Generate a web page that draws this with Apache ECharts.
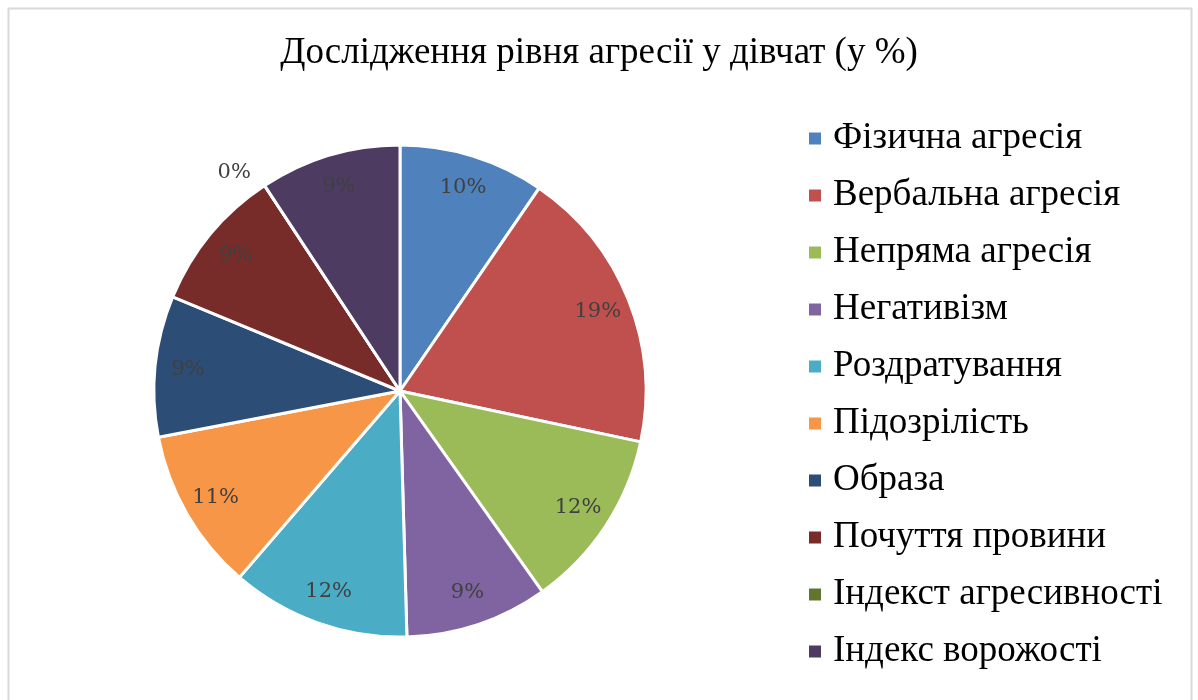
<!DOCTYPE html>
<html>
<head>
<meta charset="utf-8">
<script src="https://cdn.jsdelivr.net/npm/echarts@6/dist/echarts.min.js"></script>
<style>
	html, body { margin: 0; padding: 0; background: #ffffff; }
	#chart { width: 1198px; height: 700px; }
</style>
</head>
<body>
<div id="chart"></div>
<script>
var categories = [ 'Фізична агресія', 'Вербальна агресія', 'Непряма агресія', 'Негативізм',
		'Роздратування', 'Підозрілість', 'Образа', 'Почуття провини',
		'Індекст агресивності', 'Індекс ворожості' ];
var shares = [ 9.6, 18.8, 11.9, 9.4, 11.8, 10.7, 9.3, 9.5, 0, 9.3 ];
var colors = [ '#4f81bd', '#c0504d', '#9bbb59', '#8064a2', '#4bacc6',
		'#f79646', '#2c4d75', '#772c2a', '#5f7530', '#4d3b62' ];

function loadPie(chartId) {
	var myPie = echarts.init(document.getElementById(chartId));
	var pieData = [], labelData = [];
	for (var i = 0; i < categories.length; i++) {
		pieData.push({ name : categories[i], value : shares[i] });
		var item = { name : categories[i], value : shares[i] };
		if (shares[i] === 0) {
			// нульовий сектор - підпис зовні
			item.label = { position : 'outside' };
		}
		labelData.push(item);
	}
	var pieOption = {
		color : colors,
		animation : false,
		title : {
			text : 'Дослідження рівня агресії у дівчат (у %)',
			left : 'center',
			top : 30,
			textStyle : {
				fontFamily : 'Liberation Serif',
				fontWeight : 'normal',
				fontSize : 37,
				color : '#000000'
			}
		},
		legend : {
			orient : 'vertical',
			left : 807,
			top : 120,
			padding : 0,
			itemWidth : 14,
			itemHeight : 14,
			itemGap : 20,
			icon : 'rect',
			data : categories,
			textStyle : {
				fontFamily : 'Liberation Serif',
				fontSize : 37,
				color : '#000000',
				padding : [ 0, 0, 0, 6 ]
			}
		},
		graphic : [ {
			type : 'rect',
			shape : { x : 8.5, y : 8.5, width : 1183, height : 720 },
			style : { fill : 'none', stroke : '#d9d9d9', lineWidth : 2 },
			silent : true
		} ],
		series : [ {
			name : 'pie',
			type : 'pie',
			center : [ 400, 391 ],
			radius : [ 0, 246 ],
			startAngle : 90,
			clockwise : true,
			silent : true,
			itemStyle : {
				borderColor : '#ffffff',
				borderWidth : 3
			},
			label : { show : false },
			labelLine : { show : false },
			data : pieData
		}, {
			name : 'labels',
			type : 'pie',
			center : [ 400, 391 ],
			radius : [ 172, 248 ],
			startAngle : 90,
			clockwise : true,
			silent : true,
			legendHoverLink : false,
			itemStyle : { color : 'rgba(0,0,0,0)', borderWidth : 0 },
			label : {
				show : true,
				position : 'inside',
				formatter : function(p) {
					return Math.round(p.percent) + '%';
				},
				fontFamily : 'DejaVu Serif',
				fontSize : 21,
				color : '#404040'
			},
			labelLine : { show : false, length : 14, length2 : 0 },
			data : labelData
		} ]
	};
	myPie.setOption(pieOption);
}

loadPie('chart');
</script>
</body>
</html>
